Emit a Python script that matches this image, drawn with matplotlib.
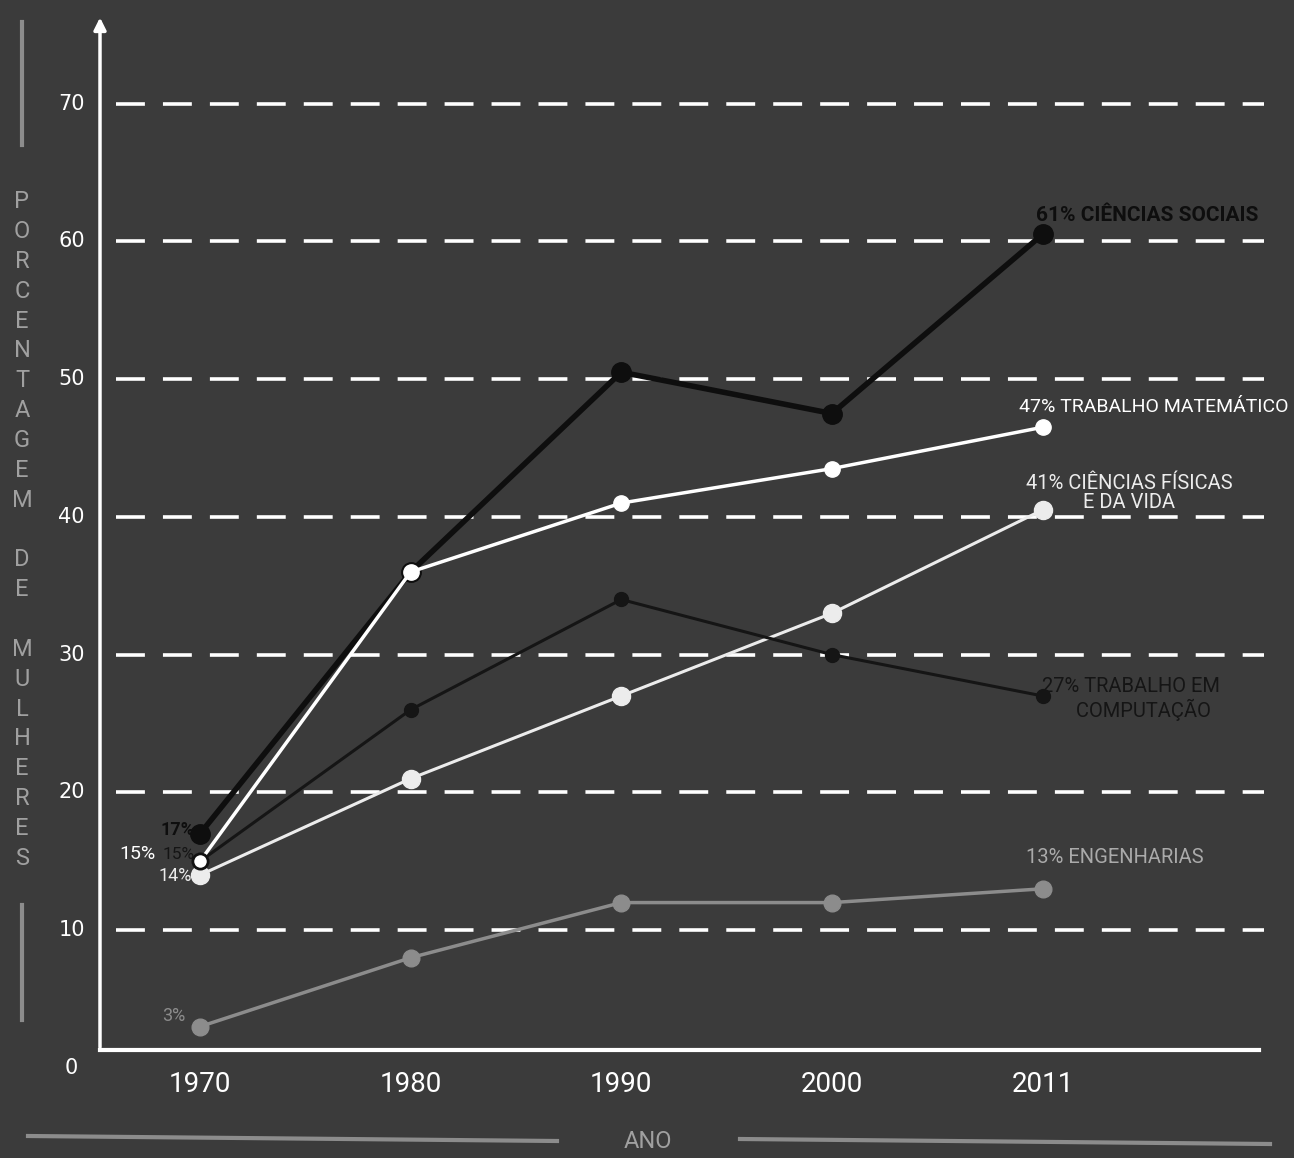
import matplotlib
matplotlib.use("Agg")
import matplotlib.pyplot as plt
from matplotlib.lines import Line2D

plt.rcParams['font.family'] = ['Roboto', 'DejaVu Sans']

anos = ["1970", "1980", "1990", "2000", "2011"]
ciencias_sociais = [17, 36, 50.5, 47.5, 60.5]
trab_matematico = [15, 36, 41, 43.5, 46.5]
ciencias_fisicas = [14, 21, 27, 33, 40.5]
trab_computacao = [15, 26, 34, 30, 27]
engenharias = [3, 8, 12, 12, 13]
y_ticks = [0, 10, 20, 30, 40, 50, 60, 70]

bg = "#3b3b3b"
W, H = 1294, 1158
fig = plt.figure(figsize=(W / 100, H / 100), dpi=100, facecolor=bg)

# axes box in pixels: left 100, right 1270, bottom 1050, top 25
ax = fig.add_axes([100 / W, (H - 1050) / H, 1170 / W, 1025 / H])
ax.set_facecolor(bg)
ax.set_xlim(-0.475, 5.08)
ax.set_ylim(1.3, 75.7)
for s in ax.spines.values():
    s.set_visible(False)
ax.set_xticks([])
ax.set_yticks([])

x = list(range(len(anos)))

# dashed chalk grid
for v in y_ticks[1:]:
    ax.plot([-0.4, 5.05], [v, v], color="white", lw=2.6, dashes=(8, 5), zorder=1)

# axes lines with arrow
ax.annotate("", xy=(0, 1.01), xytext=(0, 0), xycoords="axes fraction",
            arrowprops=dict(arrowstyle="-|>", color="white", lw=2.5, mutation_scale=18))
ax.plot([-0.475, 5.03], [1.3, 1.3], color="white", lw=3, clip_on=False, zorder=2)

# y tick labels
for v in y_ticks:
    ax.text(-0.61, v, str(v), color="white", fontsize=15, ha="center", va="center",
            family="DejaVu Sans", clip_on=False)
# x tick labels
for i, a in enumerate(anos):
    ax.text(i, -1.2, a, color="white", fontsize=20, ha="center", va="center", clip_on=False)

# series
ax.plot(x, engenharias, color="#8c8c8c", lw=2.5, marker="o", ms=12, zorder=3)
ax.plot(x, ciencias_fisicas, color="#ececec", lw=2.2, marker="o", ms=13, zorder=4)
ax.plot(x, trab_computacao, color="#151515", lw=2.2, marker="o", ms=10, zorder=4)
ax.plot(x, ciencias_sociais, color="#0e0e0e", lw=4, marker="o", ms=14, zorder=5)
ax.plot(x, trab_matematico, color="white", lw=2.5, marker="o", ms=11, zorder=6)
ax.plot([x[0]], [trab_matematico[0]], marker="o", ms=11, mfc="white", mec="#111111",
        mew=2, zorder=7)

# end labels
ax.text(3.97, 61.9, "61% CIÊNCIAS SOCIAIS", color="#0e0e0e",
        fontsize=15, fontweight="bold", ha="left", va="center")
ax.text(3.89, 48.0, "47% TRABALHO MATEMÁTICO", color="white",
        fontsize=14, ha="left", va="center")
ax.text(4.41, 41.7, "41% CIÊNCIAS FÍSICAS\nE DA VIDA", color="#ececec",
        fontsize=14.5, ha="center", va="center", linespacing=1.0)
ax.text(4.42, 26.8, "27% TRABALHO EM\n     COMPUTAÇÃO", color="#151515",
        fontsize=14.5, ha="center", va="center", linespacing=1.15)
ax.text(3.92, 15.3, "13% ENGENHARIAS", color="#aaaaaa",
        fontsize=14.5, ha="left", va="center")

# start labels
ax.text(-0.024, 17.3, "17%", color="#0e0e0e", fontsize=13,
        fontweight="bold", ha="right", va="center")
ax.text(-0.21, 15.5, "15%", color="white", fontsize=14, ha="right", va="center")
ax.text(-0.024, 15.5, "15%", color="#151515", fontsize=12.5, ha="right", va="center")
ax.text(-0.04, 13.9, "14%", color="#ececec", fontsize=13, ha="right", va="center")
ax.text(-0.07, 3.8, "3%", color="#8c8c8c", fontsize=13, ha="right", va="center")

# y axis title: stacked letters
fig.text(22 / W, 1 - 530 / H, "\n".join("PORCENTAGEM DE MULHERES"), color="#a0a0a0",
         fontsize=17, ha="center", va="center", linespacing=1.38)
fig.add_artist(Line2D([22 / W, 22 / W], [1 - 22 / H, 1 - 145 / H], color="#8c8c8c", lw=3))
fig.add_artist(Line2D([22 / W, 22 / W], [1 - 905 / H, 1 - 1020 / H], color="#8c8c8c", lw=3))

# x axis title
fig.text(648 / W, 1 - 1142 / H, "ANO", color="#a0a0a0", fontsize=17, ha="center", va="center")
fig.add_artist(Line2D([28 / W, 557 / W], [1 - 1136 / H, 1 - 1141 / H], color="#8c8c8c", lw=3))
fig.add_artist(Line2D([740 / W, 1270 / W], [1 - 1139 / H, 1 - 1144 / H], color="#8c8c8c", lw=3))

fig.savefig("out.png", dpi=100, facecolor=bg)
